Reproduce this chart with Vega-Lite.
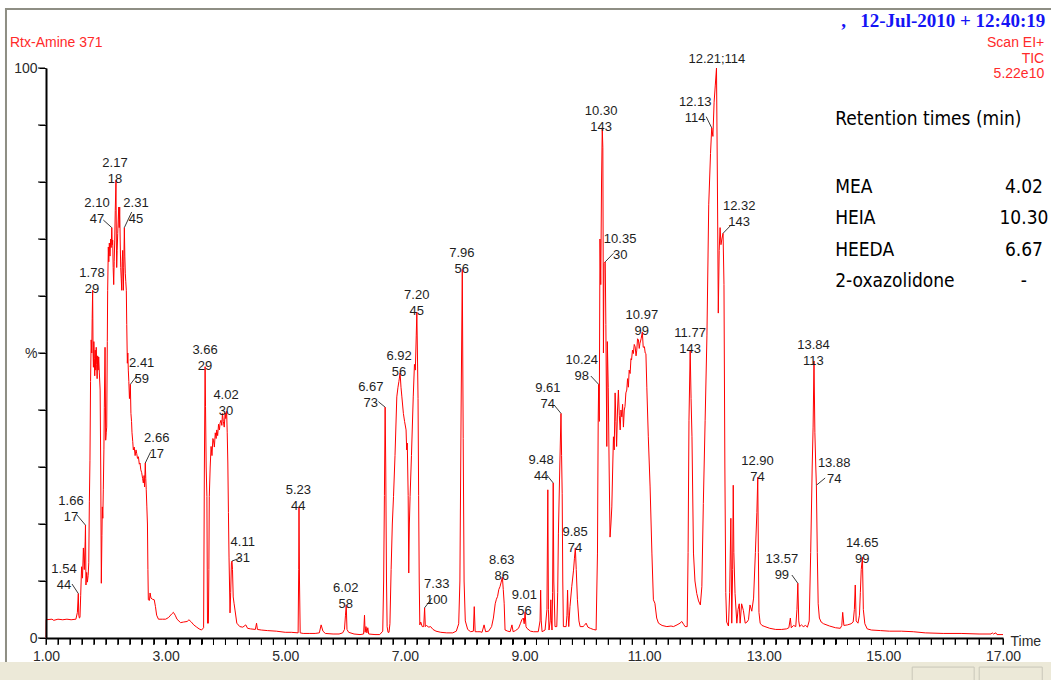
{
  "$schema": "https://vega.github.io/schema/vega-lite/v6.json",
  "width": 957,
  "height": 570,
  "autosize": {"type": "none"},
  "padding": {"left": 46, "top": 68, "right": 48, "bottom": 42},
  "background": "#ffffff",
  "config": {
    "view": {"stroke": null},
    "font": "Liberation Sans",
    "axis": {"labelOverlap": false, "labelFlush": false, "labelBound": false, "ticks": true, "tickColor": "#000000", "tickOpacity": 1, "tickWidth": 1, "zindex": 1}
  },
  "resolve": {"axis": {"x": "independent", "y": "independent"}},
  "datasets": {
    "tic": [
      {"t": 1.0, "v": 0}, {"t": 1.003, "v": 3.2}, {"t": 1.1, "v": 3.3}, {"t": 1.13, "v": 3.1}, {"t": 1.2, "v": 3.3},
      {"t": 1.28, "v": 3.2}, {"t": 1.35, "v": 3.3}, {"t": 1.42, "v": 3.2}, {"t": 1.5, "v": 3.3}, {"t": 1.525, "v": 4.5},
      {"t": 1.54, "v": 7.8}, {"t": 1.548, "v": 4.0}, {"t": 1.558, "v": 3.5}, {"t": 1.568, "v": 3.6}, {"t": 1.58, "v": 7.5},
      {"t": 1.595, "v": 12.5}, {"t": 1.61, "v": 10.5}, {"t": 1.625, "v": 15.8}, {"t": 1.64, "v": 12.0}, {"t": 1.655, "v": 17.0},
      {"t": 1.66, "v": 19.8}, {"t": 1.668, "v": 9.3}, {"t": 1.68, "v": 11.5}, {"t": 1.692, "v": 9.8}, {"t": 1.705, "v": 11.0},
      {"t": 1.715, "v": 13.2}, {"t": 1.725, "v": 24.0}, {"t": 1.735, "v": 31.2}, {"t": 1.745, "v": 45.0}, {"t": 1.755, "v": 52.3},
      {"t": 1.765, "v": 50.0}, {"t": 1.772, "v": 56.0}, {"t": 1.78, "v": 61.0}, {"t": 1.787, "v": 50.0}, {"t": 1.793, "v": 47.5},
      {"t": 1.8, "v": 52.0}, {"t": 1.808, "v": 49.0}, {"t": 1.815, "v": 46.0}, {"t": 1.823, "v": 50.5}, {"t": 1.831, "v": 47.0},
      {"t": 1.84, "v": 51.0}, {"t": 1.847, "v": 48.0}, {"t": 1.855, "v": 45.5}, {"t": 1.864, "v": 49.5}, {"t": 1.872, "v": 47.0},
      {"t": 1.881, "v": 49.3}, {"t": 1.892, "v": 46.5}, {"t": 1.905, "v": 43.5}, {"t": 1.915, "v": 30.0}, {"t": 1.925, "v": 9.6},
      {"t": 1.935, "v": 18.0}, {"t": 1.942, "v": 23.0}, {"t": 1.95, "v": 21.0}, {"t": 1.958, "v": 26.0}, {"t": 1.968, "v": 33.0},
      {"t": 1.975, "v": 40.5}, {"t": 1.987, "v": 51.0}, {"t": 1.998, "v": 34.7}, {"t": 2.007, "v": 36.0}, {"t": 2.015, "v": 37.0},
      {"t": 2.025, "v": 52.0}, {"t": 2.031, "v": 61.0}, {"t": 2.042, "v": 68.6}, {"t": 2.05, "v": 66.0}, {"t": 2.059, "v": 69.3},
      {"t": 2.07, "v": 67.0}, {"t": 2.082, "v": 70.0}, {"t": 2.09, "v": 68.5}, {"t": 2.1, "v": 72.0}, {"t": 2.108, "v": 69.0},
      {"t": 2.115, "v": 69.8}, {"t": 2.123, "v": 65.0}, {"t": 2.132, "v": 62.0}, {"t": 2.14, "v": 66.0}, {"t": 2.149, "v": 69.8},
      {"t": 2.158, "v": 75.0}, {"t": 2.17, "v": 80.3}, {"t": 2.176, "v": 70.0}, {"t": 2.182, "v": 65.0}, {"t": 2.19, "v": 68.0},
      {"t": 2.199, "v": 71.0}, {"t": 2.208, "v": 73.5}, {"t": 2.216, "v": 75.6}, {"t": 2.224, "v": 72.0}, {"t": 2.232, "v": 75.6},
      {"t": 2.24, "v": 70.0}, {"t": 2.249, "v": 65.0}, {"t": 2.258, "v": 63.0}, {"t": 2.266, "v": 61.0}, {"t": 2.274, "v": 66.0},
      {"t": 2.282, "v": 68.0}, {"t": 2.293, "v": 61.0}, {"t": 2.3, "v": 65.0}, {"t": 2.31, "v": 72.0}, {"t": 2.318, "v": 67.0},
      {"t": 2.326, "v": 64.0}, {"t": 2.334, "v": 62.5}, {"t": 2.343, "v": 61.0}, {"t": 2.35, "v": 55.0}, {"t": 2.36, "v": 48.2},
      {"t": 2.368, "v": 50.0}, {"t": 2.376, "v": 47.0}, {"t": 2.385, "v": 45.0}, {"t": 2.395, "v": 42.0}, {"t": 2.41, "v": 44.5},
      {"t": 2.42, "v": 39.4}, {"t": 2.43, "v": 38.0}, {"t": 2.438, "v": 36.0}, {"t": 2.45, "v": 34.5}, {"t": 2.46, "v": 33.0},
      {"t": 2.475, "v": 33.5}, {"t": 2.49, "v": 32.0}, {"t": 2.505, "v": 33.0}, {"t": 2.516, "v": 32.4}, {"t": 2.53, "v": 31.5},
      {"t": 2.545, "v": 31.8}, {"t": 2.56, "v": 30.5}, {"t": 2.572, "v": 30.7}, {"t": 2.585, "v": 29.5}, {"t": 2.6, "v": 29.0},
      {"t": 2.615, "v": 28.0}, {"t": 2.627, "v": 27.2}, {"t": 2.64, "v": 28.5}, {"t": 2.648, "v": 26.5}, {"t": 2.66, "v": 30.7},
      {"t": 2.668, "v": 28.0}, {"t": 2.676, "v": 26.0}, {"t": 2.686, "v": 23.0}, {"t": 2.696, "v": 20.0}, {"t": 2.704, "v": 12.0},
      {"t": 2.711, "v": 6.7}, {"t": 2.73, "v": 6.6}, {"t": 2.74, "v": 7.9}, {"t": 2.755, "v": 7.0}, {"t": 2.78, "v": 6.8},
      {"t": 2.81, "v": 6.7}, {"t": 2.83, "v": 5.5}, {"t": 2.85, "v": 4.0}, {"t": 2.88, "v": 3.3}, {"t": 2.95, "v": 3.3},
      {"t": 3.0, "v": 3.3}, {"t": 3.05, "v": 3.6}, {"t": 3.1, "v": 4.2}, {"t": 3.13, "v": 4.5}, {"t": 3.16, "v": 4.0},
      {"t": 3.19, "v": 3.3}, {"t": 3.25, "v": 2.7}, {"t": 3.3, "v": 2.8}, {"t": 3.36, "v": 2.9}, {"t": 3.39, "v": 3.2},
      {"t": 3.43, "v": 2.8}, {"t": 3.47, "v": 2.3}, {"t": 3.52, "v": 1.9}, {"t": 3.56, "v": 1.6}, {"t": 3.6, "v": 1.4},
      {"t": 3.635, "v": 1.8}, {"t": 3.648, "v": 30.0}, {"t": 3.66, "v": 47.6}, {"t": 3.667, "v": 40.6}, {"t": 3.678, "v": 30.0},
      {"t": 3.69, "v": 24.8}, {"t": 3.7, "v": 2.6}, {"t": 3.715, "v": 2.6}, {"t": 3.723, "v": 12.0}, {"t": 3.73, "v": 24.8},
      {"t": 3.745, "v": 30.0}, {"t": 3.76, "v": 33.6}, {"t": 3.775, "v": 32.0}, {"t": 3.79, "v": 35.0}, {"t": 3.8, "v": 34.7},
      {"t": 3.815, "v": 33.5}, {"t": 3.83, "v": 36.0}, {"t": 3.845, "v": 35.0}, {"t": 3.855, "v": 36.5}, {"t": 3.87, "v": 35.5},
      {"t": 3.885, "v": 37.5}, {"t": 3.9, "v": 36.5}, {"t": 3.91, "v": 37.7}, {"t": 3.925, "v": 38.2}, {"t": 3.94, "v": 37.3},
      {"t": 3.95, "v": 39.4}, {"t": 3.965, "v": 38.0}, {"t": 3.98, "v": 37.0}, {"t": 3.995, "v": 39.5}, {"t": 4.005, "v": 38.5},
      {"t": 4.02, "v": 39.8}, {"t": 4.03, "v": 36.0}, {"t": 4.04, "v": 30.7}, {"t": 4.05, "v": 22.0}, {"t": 4.06, "v": 14.2},
      {"t": 4.077, "v": 4.4}, {"t": 4.088, "v": 8.0}, {"t": 4.1, "v": 13.2}, {"t": 4.11, "v": 13.5}, {"t": 4.118, "v": 12.0},
      {"t": 4.13, "v": 7.2}, {"t": 4.145, "v": 6.0}, {"t": 4.16, "v": 4.9}, {"t": 4.19, "v": 2.6}, {"t": 4.24, "v": 2.0},
      {"t": 4.29, "v": 1.9}, {"t": 4.34, "v": 2.3}, {"t": 4.37, "v": 1.7}, {"t": 4.42, "v": 1.6}, {"t": 4.5, "v": 1.5},
      {"t": 4.52, "v": 2.6}, {"t": 4.535, "v": 1.5}, {"t": 4.6, "v": 1.4}, {"t": 4.7, "v": 1.3}, {"t": 4.85, "v": 1.2},
      {"t": 5.0, "v": 1.0}, {"t": 5.1, "v": 1.0}, {"t": 5.215, "v": 0.9}, {"t": 5.225, "v": 12.0}, {"t": 5.23, "v": 23.0},
      {"t": 5.238, "v": 10.0}, {"t": 5.25, "v": 0.9}, {"t": 5.3, "v": 0.8}, {"t": 5.4, "v": 0.8}, {"t": 5.5, "v": 0.8},
      {"t": 5.57, "v": 0.9}, {"t": 5.6, "v": 2.3}, {"t": 5.63, "v": 1.2}, {"t": 5.67, "v": 0.8}, {"t": 5.8, "v": 0.7},
      {"t": 5.9, "v": 0.7}, {"t": 5.96, "v": 0.9}, {"t": 5.99, "v": 1.5}, {"t": 6.007, "v": 4.0}, {"t": 6.02, "v": 5.8},
      {"t": 6.032, "v": 1.5}, {"t": 6.06, "v": 1.0}, {"t": 6.15, "v": 0.7}, {"t": 6.25, "v": 0.6}, {"t": 6.31, "v": 0.7},
      {"t": 6.325, "v": 4.0}, {"t": 6.335, "v": 1.0}, {"t": 6.35, "v": 2.0}, {"t": 6.365, "v": 0.9}, {"t": 6.38, "v": 1.8},
      {"t": 6.395, "v": 0.7}, {"t": 6.5, "v": 0.6}, {"t": 6.58, "v": 0.6}, {"t": 6.63, "v": 1.2}, {"t": 6.645, "v": 10.0},
      {"t": 6.658, "v": 25.0}, {"t": 6.67, "v": 40.5}, {"t": 6.68, "v": 30.0}, {"t": 6.693, "v": 10.0}, {"t": 6.703, "v": 2.0},
      {"t": 6.718, "v": 1.0}, {"t": 6.735, "v": 1.0}, {"t": 6.75, "v": 2.5}, {"t": 6.77, "v": 12.0}, {"t": 6.79, "v": 20.0},
      {"t": 6.81, "v": 24.8}, {"t": 6.835, "v": 32.0}, {"t": 6.865, "v": 42.3}, {"t": 6.885, "v": 44.0}, {"t": 6.9, "v": 45.0},
      {"t": 6.92, "v": 46.5}, {"t": 6.935, "v": 44.0}, {"t": 6.95, "v": 42.3}, {"t": 6.975, "v": 39.4}, {"t": 6.995, "v": 38.0},
      {"t": 7.02, "v": 36.5}, {"t": 7.03, "v": 33.0}, {"t": 7.04, "v": 34.2}, {"t": 7.055, "v": 25.0}, {"t": 7.065, "v": 11.4},
      {"t": 7.075, "v": 20.0}, {"t": 7.087, "v": 24.8}, {"t": 7.11, "v": 32.0}, {"t": 7.14, "v": 42.3}, {"t": 7.16, "v": 48.0},
      {"t": 7.175, "v": 47.0}, {"t": 7.19, "v": 53.0}, {"t": 7.2, "v": 57.2}, {"t": 7.21, "v": 50.0}, {"t": 7.22, "v": 42.0},
      {"t": 7.23, "v": 25.0}, {"t": 7.24, "v": 10.0}, {"t": 7.25, "v": 2.3}, {"t": 7.265, "v": 2.8}, {"t": 7.29, "v": 2.0},
      {"t": 7.315, "v": 2.0}, {"t": 7.33, "v": 5.3}, {"t": 7.342, "v": 2.0}, {"t": 7.36, "v": 2.2}, {"t": 7.4, "v": 1.9},
      {"t": 7.43, "v": 2.0}, {"t": 7.47, "v": 1.5}, {"t": 7.52, "v": 1.2}, {"t": 7.6, "v": 1.0}, {"t": 7.7, "v": 0.9},
      {"t": 7.8, "v": 0.9}, {"t": 7.86, "v": 1.2}, {"t": 7.9, "v": 2.5}, {"t": 7.92, "v": 10.0}, {"t": 7.94, "v": 40.0},
      {"t": 7.96, "v": 64.7}, {"t": 7.975, "v": 35.0}, {"t": 7.99, "v": 10.0}, {"t": 8.01, "v": 3.0}, {"t": 8.05, "v": 1.5},
      {"t": 8.1, "v": 1.1}, {"t": 8.145, "v": 1.2}, {"t": 8.16, "v": 5.5}, {"t": 8.175, "v": 1.1}, {"t": 8.22, "v": 1.1},
      {"t": 8.257, "v": 1.1}, {"t": 8.29, "v": 1.0}, {"t": 8.324, "v": 2.3}, {"t": 8.35, "v": 1.1}, {"t": 8.4, "v": 1.2},
      {"t": 8.45, "v": 2.0}, {"t": 8.48, "v": 3.5}, {"t": 8.51, "v": 6.0}, {"t": 8.53, "v": 6.8}, {"t": 8.55, "v": 7.3},
      {"t": 8.57, "v": 8.5}, {"t": 8.59, "v": 9.0}, {"t": 8.61, "v": 9.8}, {"t": 8.63, "v": 10.7}, {"t": 8.645, "v": 8.5},
      {"t": 8.66, "v": 6.1}, {"t": 8.675, "v": 1.4}, {"t": 8.72, "v": 1.2}, {"t": 8.76, "v": 1.1}, {"t": 8.79, "v": 2.3},
      {"t": 8.81, "v": 1.1}, {"t": 8.85, "v": 1.3}, {"t": 8.9, "v": 1.7}, {"t": 8.93, "v": 2.5}, {"t": 8.955, "v": 3.2},
      {"t": 8.98, "v": 3.5}, {"t": 8.995, "v": 2.5}, {"t": 9.01, "v": 4.6}, {"t": 9.025, "v": 2.0}, {"t": 9.04, "v": 1.7},
      {"t": 9.1, "v": 1.2}, {"t": 9.15, "v": 1.1}, {"t": 9.23, "v": 1.1}, {"t": 9.26, "v": 3.0}, {"t": 9.27, "v": 8.4},
      {"t": 9.28, "v": 3.0}, {"t": 9.294, "v": 1.1}, {"t": 9.344, "v": 1.4}, {"t": 9.375, "v": 5.0}, {"t": 9.39, "v": 26.0},
      {"t": 9.4, "v": 5.0}, {"t": 9.41, "v": 1.4}, {"t": 9.43, "v": 3.0}, {"t": 9.44, "v": 6.7}, {"t": 9.45, "v": 3.0},
      {"t": 9.46, "v": 1.4}, {"t": 9.47, "v": 8.0}, {"t": 9.48, "v": 27.2}, {"t": 9.49, "v": 10.0}, {"t": 9.51, "v": 2.0},
      {"t": 9.54, "v": 2.0}, {"t": 9.555, "v": 8.0}, {"t": 9.567, "v": 18.4}, {"t": 9.59, "v": 30.0}, {"t": 9.61, "v": 39.4},
      {"t": 9.62, "v": 32.0}, {"t": 9.63, "v": 25.4}, {"t": 9.64, "v": 10.0}, {"t": 9.65, "v": 2.0}, {"t": 9.696, "v": 2.0},
      {"t": 9.71, "v": 4.0}, {"t": 9.72, "v": 8.4}, {"t": 9.73, "v": 4.0}, {"t": 9.74, "v": 2.0}, {"t": 9.76, "v": 5.5},
      {"t": 9.79, "v": 9.0}, {"t": 9.82, "v": 11.9}, {"t": 9.835, "v": 14.0}, {"t": 9.85, "v": 15.8}, {"t": 9.865, "v": 12.0},
      {"t": 9.885, "v": 6.7}, {"t": 9.91, "v": 3.0}, {"t": 9.93, "v": 2.0}, {"t": 9.98, "v": 2.0}, {"t": 10.0, "v": 2.2},
      {"t": 10.03, "v": 2.6}, {"t": 10.06, "v": 1.9}, {"t": 10.1, "v": 1.7}, {"t": 10.15, "v": 1.5}, {"t": 10.197, "v": 1.4},
      {"t": 10.22, "v": 14.9}, {"t": 10.232, "v": 38.2}, {"t": 10.24, "v": 44.5}, {"t": 10.25, "v": 38.0}, {"t": 10.262, "v": 70.0},
      {"t": 10.275, "v": 62.0}, {"t": 10.288, "v": 80.0}, {"t": 10.3, "v": 89.5}, {"t": 10.31, "v": 86.0}, {"t": 10.32, "v": 50.0},
      {"t": 10.33, "v": 65.7}, {"t": 10.35, "v": 66.0}, {"t": 10.36, "v": 55.0}, {"t": 10.376, "v": 33.6}, {"t": 10.385, "v": 52.0},
      {"t": 10.4, "v": 44.0}, {"t": 10.415, "v": 30.0}, {"t": 10.43, "v": 17.7}, {"t": 10.445, "v": 20.0}, {"t": 10.46, "v": 23.0},
      {"t": 10.475, "v": 30.0}, {"t": 10.487, "v": 35.3}, {"t": 10.5, "v": 33.0}, {"t": 10.515, "v": 43.0}, {"t": 10.528, "v": 38.0},
      {"t": 10.54, "v": 33.6}, {"t": 10.555, "v": 40.0}, {"t": 10.57, "v": 43.5}, {"t": 10.585, "v": 39.0}, {"t": 10.6, "v": 36.5},
      {"t": 10.613, "v": 40.0}, {"t": 10.627, "v": 38.8}, {"t": 10.64, "v": 41.0}, {"t": 10.654, "v": 37.0}, {"t": 10.668, "v": 40.0},
      {"t": 10.68, "v": 40.6}, {"t": 10.695, "v": 43.0}, {"t": 10.71, "v": 43.5}, {"t": 10.723, "v": 45.5}, {"t": 10.737, "v": 44.0},
      {"t": 10.75, "v": 47.0}, {"t": 10.766, "v": 46.4}, {"t": 10.78, "v": 49.0}, {"t": 10.79, "v": 48.8}, {"t": 10.805, "v": 50.5},
      {"t": 10.82, "v": 49.9}, {"t": 10.835, "v": 51.5}, {"t": 10.85, "v": 51.1}, {"t": 10.865, "v": 49.5}, {"t": 10.877, "v": 50.5},
      {"t": 10.89, "v": 52.5}, {"t": 10.905, "v": 52.3}, {"t": 10.918, "v": 50.8}, {"t": 10.93, "v": 51.7}, {"t": 10.95, "v": 52.5},
      {"t": 10.97, "v": 53.7}, {"t": 10.985, "v": 51.0}, {"t": 11.005, "v": 51.1}, {"t": 11.018, "v": 50.0}, {"t": 11.03, "v": 49.9},
      {"t": 11.045, "v": 44.0}, {"t": 11.07, "v": 35.3}, {"t": 11.1, "v": 26.5}, {"t": 11.13, "v": 14.9}, {"t": 11.155, "v": 6.7},
      {"t": 11.18, "v": 6.1}, {"t": 11.21, "v": 3.5}, {"t": 11.24, "v": 2.6}, {"t": 11.3, "v": 2.2}, {"t": 11.38, "v": 2.0},
      {"t": 11.45, "v": 2.1}, {"t": 11.49, "v": 2.0}, {"t": 11.55, "v": 2.3}, {"t": 11.6, "v": 2.6}, {"t": 11.63, "v": 2.9},
      {"t": 11.66, "v": 2.4}, {"t": 11.685, "v": 2.0}, {"t": 11.72, "v": 2.0}, {"t": 11.735, "v": 15.0}, {"t": 11.75, "v": 38.2},
      {"t": 11.77, "v": 50.5}, {"t": 11.785, "v": 42.0}, {"t": 11.8, "v": 35.3}, {"t": 11.825, "v": 14.9}, {"t": 11.85, "v": 10.0},
      {"t": 11.88, "v": 7.8}, {"t": 11.91, "v": 6.5}, {"t": 11.94, "v": 5.8}, {"t": 11.965, "v": 9.0}, {"t": 11.99, "v": 23.6},
      {"t": 12.02, "v": 38.2}, {"t": 12.05, "v": 53.0}, {"t": 12.08, "v": 76.0}, {"t": 12.11, "v": 85.0}, {"t": 12.13, "v": 89.5},
      {"t": 12.15, "v": 88.0}, {"t": 12.17, "v": 94.0}, {"t": 12.19, "v": 97.0}, {"t": 12.21, "v": 100.0}, {"t": 12.225, "v": 80.0},
      {"t": 12.24, "v": 57.0}, {"t": 12.255, "v": 68.0}, {"t": 12.27, "v": 72.0}, {"t": 12.285, "v": 69.0}, {"t": 12.3, "v": 70.0},
      {"t": 12.32, "v": 71.0}, {"t": 12.335, "v": 62.0}, {"t": 12.35, "v": 30.0}, {"t": 12.365, "v": 8.0}, {"t": 12.38, "v": 2.8},
      {"t": 12.41, "v": 2.1}, {"t": 12.43, "v": 8.0}, {"t": 12.45, "v": 21.0}, {"t": 12.465, "v": 2.6}, {"t": 12.48, "v": 12.0},
      {"t": 12.49, "v": 26.8}, {"t": 12.5, "v": 15.0}, {"t": 12.52, "v": 7.8}, {"t": 12.55, "v": 2.6}, {"t": 12.57, "v": 5.0},
      {"t": 12.59, "v": 6.0}, {"t": 12.605, "v": 2.6}, {"t": 12.63, "v": 6.0}, {"t": 12.66, "v": 4.8}, {"t": 12.69, "v": 2.6},
      {"t": 12.72, "v": 2.8}, {"t": 12.745, "v": 3.2}, {"t": 12.77, "v": 5.8}, {"t": 12.8, "v": 4.7}, {"t": 12.83, "v": 7.0},
      {"t": 12.86, "v": 15.0}, {"t": 12.885, "v": 22.0}, {"t": 12.9, "v": 28.2}, {"t": 12.91, "v": 15.0}, {"t": 12.92, "v": 4.5},
      {"t": 12.94, "v": 2.6}, {"t": 12.97, "v": 2.2}, {"t": 13.02, "v": 2.0}, {"t": 13.1, "v": 1.7}, {"t": 13.2, "v": 1.5},
      {"t": 13.3, "v": 1.5}, {"t": 13.38, "v": 1.6}, {"t": 13.42, "v": 1.8}, {"t": 13.445, "v": 3.5}, {"t": 13.46, "v": 1.8},
      {"t": 13.5, "v": 2.2}, {"t": 13.535, "v": 2.0}, {"t": 13.555, "v": 5.0}, {"t": 13.57, "v": 9.6}, {"t": 13.585, "v": 3.0},
      {"t": 13.6, "v": 2.0}, {"t": 13.63, "v": 2.3}, {"t": 13.66, "v": 2.0}, {"t": 13.7, "v": 2.2}, {"t": 13.73, "v": 1.9},
      {"t": 13.76, "v": 3.0}, {"t": 13.785, "v": 15.0}, {"t": 13.81, "v": 30.0}, {"t": 13.825, "v": 37.0}, {"t": 13.84, "v": 48.6},
      {"t": 13.855, "v": 36.0}, {"t": 13.87, "v": 30.0}, {"t": 13.88, "v": 26.8}, {"t": 13.895, "v": 15.0}, {"t": 13.91, "v": 6.0},
      {"t": 13.93, "v": 3.5}, {"t": 13.96, "v": 2.8}, {"t": 14.0, "v": 2.5}, {"t": 14.1, "v": 2.1}, {"t": 14.2, "v": 1.8},
      {"t": 14.28, "v": 1.7}, {"t": 14.305, "v": 2.2}, {"t": 14.32, "v": 4.5}, {"t": 14.34, "v": 2.2}, {"t": 14.4, "v": 2.3},
      {"t": 14.46, "v": 2.5}, {"t": 14.495, "v": 2.8}, {"t": 14.515, "v": 5.0}, {"t": 14.53, "v": 9.3}, {"t": 14.545, "v": 3.0},
      {"t": 14.575, "v": 2.6}, {"t": 14.6, "v": 4.0}, {"t": 14.615, "v": 8.0}, {"t": 14.63, "v": 12.0}, {"t": 14.65, "v": 14.2},
      {"t": 14.665, "v": 5.0}, {"t": 14.69, "v": 2.5}, {"t": 14.73, "v": 1.6}, {"t": 14.8, "v": 1.4}, {"t": 14.95, "v": 1.3},
      {"t": 15.1, "v": 1.2}, {"t": 15.3, "v": 1.2}, {"t": 15.5, "v": 1.1}, {"t": 15.7, "v": 0.9}, {"t": 16.0, "v": 0.8},
      {"t": 16.3, "v": 0.8}, {"t": 16.6, "v": 0.7}, {"t": 16.8, "v": 0.7}, {"t": 16.82, "v": 0.9}, {"t": 16.84, "v": 0.7},
      {"t": 16.88, "v": 0.9}, {"t": 16.9, "v": 0.6}, {"t": 17.0, "v": 0.6}
    ],
    "minutes": [
      {"t": 1}, {"t": 1.2}, {"t": 1.4}, {"t": 1.6}, {"t": 1.8}, {"t": 2}, {"t": 2.2}, {"t": 2.4}, {"t": 2.6}, {"t": 2.8},
      {"t": 3}, {"t": 3.2}, {"t": 3.4}, {"t": 3.6}, {"t": 3.8}, {"t": 4}, {"t": 4.2}, {"t": 4.4}, {"t": 4.6}, {"t": 4.8},
      {"t": 5}, {"t": 5.2}, {"t": 5.4}, {"t": 5.6}, {"t": 5.8}, {"t": 6}, {"t": 6.2}, {"t": 6.4}, {"t": 6.6}, {"t": 6.8},
      {"t": 7}, {"t": 7.2}, {"t": 7.4}, {"t": 7.6}, {"t": 7.8}, {"t": 8}, {"t": 8.2}, {"t": 8.4}, {"t": 8.6}, {"t": 8.8},
      {"t": 9}, {"t": 9.2}, {"t": 9.4}, {"t": 9.6}, {"t": 9.8}, {"t": 10}, {"t": 10.2}, {"t": 10.4}, {"t": 10.6}, {"t": 10.8},
      {"t": 11}, {"t": 11.2}, {"t": 11.4}, {"t": 11.6}, {"t": 11.8}, {"t": 12}, {"t": 12.2}, {"t": 12.4}, {"t": 12.6}, {"t": 12.8},
      {"t": 13}, {"t": 13.2}, {"t": 13.4}, {"t": 13.6}, {"t": 13.8}, {"t": 14}, {"t": 14.2}, {"t": 14.4}, {"t": 14.6}, {"t": 14.8},
      {"t": 15}, {"t": 15.2}, {"t": 15.4}, {"t": 15.6}, {"t": 15.8}, {"t": 16}, {"t": 16.2}, {"t": 16.4}, {"t": 16.6}, {"t": 16.8},
      {"t": 17}
    ],
    "percents": [
      {"p": 0}, {"p": 10}, {"p": 20}, {"p": 30}, {"p": 40}, {"p": 50}, {"p": 60}, {"p": 70}, {"p": 80}, {"p": 90}, {"p": 100}
    ],
    "peaks": [
      {"label": "1.54\n44", "lx": 1.301, "ly": 12.19, "ax": 1.435, "ay": 9.47, "rt": 1.54, "h": 7.8},
      {"label": "1.66\n17", "lx": 1.418, "ly": 24.12, "ax": 1.518, "ay": 21.58, "rt": 1.66, "h": 19.8},
      {"label": "1.78\n29", "lx": 1.769, "ly": 63.95, "rt": 1.78, "h": 61.0},
      {"label": "2.10\n47", "lx": 1.853, "ly": 76.23, "ax": 1.958, "ay": 73.33, "rt": 2.1, "h": 72.0},
      {"label": "2.17\n18", "lx": 2.154, "ly": 83.25, "rt": 2.17, "h": 80.3},
      {"label": "2.31\n45", "lx": 2.505, "ly": 76.32, "ax": 2.433, "ay": 74.74, "rt": 2.31, "h": 72.0},
      {"label": "2.41\n59", "lx": 2.6, "ly": 48.25, "ax": 2.517, "ay": 45.96, "rt": 2.41, "h": 44.5},
      {"label": "2.66\n17", "lx": 2.851, "ly": 35.09, "ax": 2.751, "ay": 32.68, "rt": 2.66, "h": 30.7},
      {"label": "3.66\n29", "lx": 3.659, "ly": 50.53, "rt": 3.66, "h": 47.6},
      {"label": "4.02\n30", "lx": 4.01, "ly": 42.63, "rt": 4.02, "h": 39.8},
      {"label": "4.11\n31", "lx": 4.289, "ly": 16.84, "ax": 4.232, "ay": 13.98, "rt": 4.11, "h": 13.5},
      {"label": "5.23\n44", "lx": 5.219, "ly": 25.96, "rt": 5.23, "h": 23.0},
      {"label": "6.02\n58", "lx": 6.012, "ly": 8.77, "rt": 6.02, "h": 5.8},
      {"label": "6.67\n73", "lx": 6.43, "ly": 44.04, "ax": 6.557, "ay": 41.46, "rt": 6.67, "h": 40.5},
      {"label": "6.92\n56", "lx": 6.903, "ly": 49.47, "rt": 6.92, "h": 46.5},
      {"label": "7.20\n45", "lx": 7.199, "ly": 60.09, "rt": 7.2, "h": 57.2},
      {"label": "7.33\n100", "lx": 7.533, "ly": 9.39, "ax": 7.45, "ay": 6.96, "rt": 7.33, "h": 5.3},
      {"label": "7.96\n56", "lx": 7.952, "ly": 67.63, "rt": 7.96, "h": 64.7},
      {"label": "8.63\n86", "lx": 8.62, "ly": 13.74, "rt": 8.63, "h": 10.7},
      {"label": "9.01\n56", "lx": 8.998, "ly": 7.49, "rt": 9.01, "h": 4.6},
      {"label": "9.48\n44", "lx": 9.278, "ly": 31.28, "ax": 9.373, "ay": 28.6, "rt": 9.48, "h": 27.2},
      {"label": "9.61\n74", "lx": 9.39, "ly": 43.86, "ax": 9.495, "ay": 40.88, "rt": 9.61, "h": 39.4},
      {"label": "9.85\n74", "lx": 9.846, "ly": 18.6, "rt": 9.85, "h": 15.8},
      {"label": "10.24\n98", "lx": 9.958, "ly": 48.72, "ax": 10.109, "ay": 45.96, "rt": 10.24, "h": 44.5},
      {"label": "10.30\n143", "lx": 10.281, "ly": 92.49, "rt": 10.3, "h": 89.5},
      {"label": "10.35\n30", "lx": 10.599, "ly": 70.04, "ax": 10.487, "ay": 67.49, "rt": 10.35, "h": 66.0},
      {"label": "10.97\n99", "lx": 10.962, "ly": 56.67, "rt": 10.97, "h": 53.7},
      {"label": "11.77\n143", "lx": 11.769, "ly": 53.51, "rt": 11.77, "h": 50.5},
      {"label": "12.13\n114", "lx": 11.853, "ly": 94.09, "ax": 12.037, "ay": 91.46, "rt": 12.13, "h": 89.5},
      {"label": "12.21;114", "lx": 12.216, "ly": 101.5, "rt": 12.21, "h": 100.0},
      {"label": "12.32\n143", "lx": 12.589, "ly": 75.79, "ax": 12.438, "ay": 72.28, "rt": 12.32, "h": 71.0},
      {"label": "12.90\n74", "lx": 12.895, "ly": 31.05, "rt": 12.9, "h": 28.2},
      {"label": "13.57\n99", "lx": 13.303, "ly": 13.91, "ax": 13.47, "ay": 11.05, "rt": 13.57, "h": 9.6},
      {"label": "13.84\n113", "lx": 13.831, "ly": 51.4, "rt": 13.84, "h": 48.6},
      {"label": "13.88\n74", "lx": 14.177, "ly": 30.7, "ax": 14.027, "ay": 28.07, "rt": 13.88, "h": 26.8},
      {"label": "14.65\n99", "lx": 14.645, "ly": 16.67, "rt": 14.65, "h": 14.2}
    ],
    "retention": [
      {"name": "MEA", "value": "4.02", "nx": 14.194, "vx": 17.35, "ry": 79.04},
      {"name": "HEIA", "value": "10.30", "nx": 14.194, "vx": 17.35, "ry": 73.62},
      {"name": "HEEDA", "value": "6.67", "nx": 14.194, "vx": 17.35, "ry": 68.07},
      {"name": "2-oxazolidone", "value": "-", "nx": 14.194, "vx": 17.35, "ry": 62.7}
    ],
    "heading": [{"text": "Retention times (min)", "hx": 14.194, "hy": 91.05}],
    "method": [{"text": "Rtx-Amine 371", "mx": 0.398, "my": 104.4}],
    "scan": [
      {"text": "Scan EI+", "sx": 17.689, "sy": 104.4},
      {"text": "TIC", "sx": 17.689, "sy": 101.58},
      {"text": "5.22e10", "sx": 17.689, "sy": 98.95}
    ],
    "stamp": [{"text": ",\u00a0\u00a0 12-Jul-2010 + 12:40:19", "dx": 17.706, "dy": 108.3}],
    "statusbar": [{"x1": 0.2, "x2": 17.9, "y1": -4.2, "y2": -7.6}],
    "panes": [
      {"x1": 15.482, "x2": 16.518, "y1": -5.1, "y2": -7.6},
      {"x1": 16.602, "x2": 17.656, "y1": -5.1, "y2": -7.6}
    ],
    "border": [
      {"x1": 0.314, "x2": 17.9, "y1": 110.35, "y2": 110.35},
      {"x1": 0.331, "x2": 0.331, "y1": 110.35, "y2": -4.2}
    ]
  },
  "layer": [
    {
      "data": {"name": "tic"},
      "mark": {"type": "line", "stroke": "#ff0000", "strokeWidth": 1, "interpolate": "linear", "clip": false},
      "encoding": {
        "x": {
          "field": "t",
          "type": "quantitative",
          "scale": {"domain": [1, 17], "nice": false, "zero": false},
          "axis": {
            "values": [1, 1.2, 1.4, 1.6, 1.8, 2, 2.2, 2.4, 2.6, 2.8, 3, 3.2, 3.4, 3.6, 3.8, 4, 4.2, 4.4, 4.6, 4.8, 5, 5.2, 5.4, 5.6, 5.8, 6, 6.2, 6.4, 6.6, 6.8, 7, 7.2, 7.4, 7.6, 7.8, 8, 8.2, 8.4, 8.6, 8.8, 9, 9.2, 9.4, 9.6, 9.8, 10, 10.2, 10.4, 10.6, 10.8, 11, 11.2, 11.4, 11.6, 11.8, 12, 12.2, 12.4, 12.6, 12.8, 13, 13.2, 13.4, 13.6, 13.8, 14, 14.2, 14.4, 14.6, 14.8, 15, 15.2, 15.4, 15.6, 15.8, 16, 16.2, 16.4, 16.6, 16.8, 17],
            "labelExpr": "round(datum.value * 10) % 20 == 10 ? format(datum.value, '.2f') : ''",
            "labelOverlap": false,
            "labelFlush": false,
            "labelFont": "Liberation Sans",
            "labelFontSize": 14,
            "labelColor": "#2a2a2a",
            "labelPadding": 5,
            "grid": false,
            "ticks": true,
            "domainColor": "#000000",
            "domainWidth": 2,
            "tickColor": "#000000",
            "tickOpacity": 1,
            "tickWidth": 1,
            "tickSize": 6,
            "zindex": 1,
            "title": "Time",
            "titleFont": "Liberation Sans",
            "titleFontSize": 14,
            "titleFontWeight": "normal",
            "titleColor": "#2a2a2a",
            "titleX": 964,
            "titleY": 3,
            "titleAlign": "left",
            "titleBaseline": "middle",
            "titleAngle": 0
          }
        },
        "y": {
          "field": "v",
          "type": "quantitative",
          "scale": {"domain": [0, 100], "nice": false, "zero": false},
          "axis": {
            "values": [0, 10, 20, 30, 40, 50, 60, 70, 80, 90, 100],
            "labelExpr": "datum.value == 100 ? '100' : datum.value == 50 ? '%' : datum.value == 0 ? '0' : ''",
            "labelOverlap": false,
            "labelFont": "Liberation Sans",
            "labelFontSize": 14,
            "labelColor": "#2a2a2a",
            "labelPadding": 2,
            "grid": false,
            "ticks": true,
            "domainColor": "#000000",
            "domainWidth": 2,
            "tickColor": "#000000",
            "tickOpacity": 1,
            "tickWidth": 1,
            "tickSize": 7,
            "zindex": 1,
            "title": null
          }
        }
      }
    },
    {
      "data": {"name": "minutes"},
      "mark": {"type": "tick", "orient": "vertical", "size": 6, "thickness": 1, "color": "#000000", "opacity": 1, "yOffset": 4, "clip": false},
      "encoding": {
        "x": {"field": "t", "type": "quantitative", "axis": null},
        "y": {"datum": 0, "type": "quantitative", "axis": null}
      }
    },
    {
      "data": {"name": "percents"},
      "mark": {"type": "tick", "orient": "horizontal", "size": 7, "thickness": 1, "color": "#000000", "opacity": 1, "xOffset": -4.5, "clip": false},
      "encoding": {
        "x": {"datum": 1, "type": "quantitative", "axis": null},
        "y": {"field": "p", "type": "quantitative", "axis": null}
      }
    },
    {
      "data": {"name": "statusbar"},
      "mark": {"type": "rect", "fill": "#ece9d8", "clip": false},
      "encoding": {
        "x": {"field": "x1", "type": "quantitative", "axis": null},
        "x2": {"field": "x2"},
        "y": {"field": "y1", "type": "quantitative", "axis": null},
        "y2": {"field": "y2"}
      }
    },
    {
      "data": {"name": "panes"},
      "mark": {"type": "rect", "fill": "#ece9d8", "stroke": "#c9c7b9", "strokeWidth": 1, "clip": false},
      "encoding": {
        "x": {"field": "x1", "type": "quantitative", "axis": null},
        "x2": {"field": "x2"},
        "y": {"field": "y1", "type": "quantitative", "axis": null},
        "y2": {"field": "y2"}
      }
    },
    {
      "data": {"name": "border"},
      "mark": {"type": "rule", "stroke": "#8e8e84", "strokeWidth": 2, "clip": false},
      "encoding": {
        "x": {"field": "x1", "type": "quantitative", "axis": null},
        "x2": {"field": "x2"},
        "y": {"field": "y1", "type": "quantitative", "axis": null},
        "y2": {"field": "y2"}
      }
    },
    {
      "data": {"name": "peaks"},
      "transform": [{"filter": "isValid(datum.ax)"}],
      "mark": {"type": "rule", "stroke": "#3a3a3a", "strokeWidth": 1},
      "encoding": {
        "x": {"field": "ax", "type": "quantitative", "axis": null},
        "y": {"field": "ay", "type": "quantitative", "axis": null},
        "x2": {"field": "rt"},
        "y2": {"field": "h"}
      }
    },
    {
      "data": {"name": "peaks"},
      "mark": {"type": "text", "font": "Liberation Sans", "fontSize": 13, "color": "#1e1e1e", "lineBreak": "\n", "lineHeight": 16, "align": "center", "baseline": "middle", "clip": false},
      "encoding": {
        "x": {"field": "lx", "type": "quantitative", "axis": null},
        "y": {"field": "ly", "type": "quantitative", "axis": null},
        "text": {"field": "label"}
      }
    },
    {
      "data": {"name": "heading"},
      "mark": {"type": "text", "font": "DejaVu Sans Condensed", "fontSize": 19, "color": "#000000", "align": "left", "baseline": "middle", "clip": false},
      "encoding": {
        "x": {"field": "hx", "type": "quantitative", "axis": null},
        "y": {"field": "hy", "type": "quantitative", "axis": null},
        "text": {"field": "text"}
      }
    },
    {
      "data": {"name": "retention"},
      "mark": {"type": "text", "font": "DejaVu Sans Condensed", "fontSize": 19, "color": "#000000", "align": "left", "baseline": "middle", "clip": false},
      "encoding": {
        "x": {"field": "nx", "type": "quantitative", "axis": null},
        "y": {"field": "ry", "type": "quantitative", "axis": null},
        "text": {"field": "name"}
      }
    },
    {
      "data": {"name": "retention"},
      "mark": {"type": "text", "font": "DejaVu Sans Condensed", "fontSize": 19, "color": "#000000", "align": "center", "baseline": "middle", "clip": false},
      "encoding": {
        "x": {"field": "vx", "type": "quantitative", "axis": null},
        "y": {"field": "ry", "type": "quantitative", "axis": null},
        "text": {"field": "value"}
      }
    },
    {
      "data": {"name": "method"},
      "mark": {"type": "text", "font": "Liberation Sans", "fontSize": 14, "color": "#ff2a2a", "align": "left", "baseline": "middle", "clip": false},
      "encoding": {
        "x": {"field": "mx", "type": "quantitative", "axis": null},
        "y": {"field": "my", "type": "quantitative", "axis": null},
        "text": {"field": "text"}
      }
    },
    {
      "data": {"name": "scan"},
      "mark": {"type": "text", "font": "Liberation Sans", "fontSize": 14, "color": "#ff2a2a", "align": "right", "baseline": "middle", "clip": false},
      "encoding": {
        "x": {"field": "sx", "type": "quantitative", "axis": null},
        "y": {"field": "sy", "type": "quantitative", "axis": null},
        "text": {"field": "text"}
      }
    },
    {
      "data": {"name": "stamp"},
      "mark": {"type": "text", "font": "Liberation Serif", "fontSize": 19, "fontWeight": "bold", "color": "#1414f5", "align": "right", "baseline": "middle", "clip": false},
      "encoding": {
        "x": {"field": "dx", "type": "quantitative", "axis": null},
        "y": {"field": "dy", "type": "quantitative", "axis": null},
        "text": {"field": "text"}
      }
    }
  ]
}
